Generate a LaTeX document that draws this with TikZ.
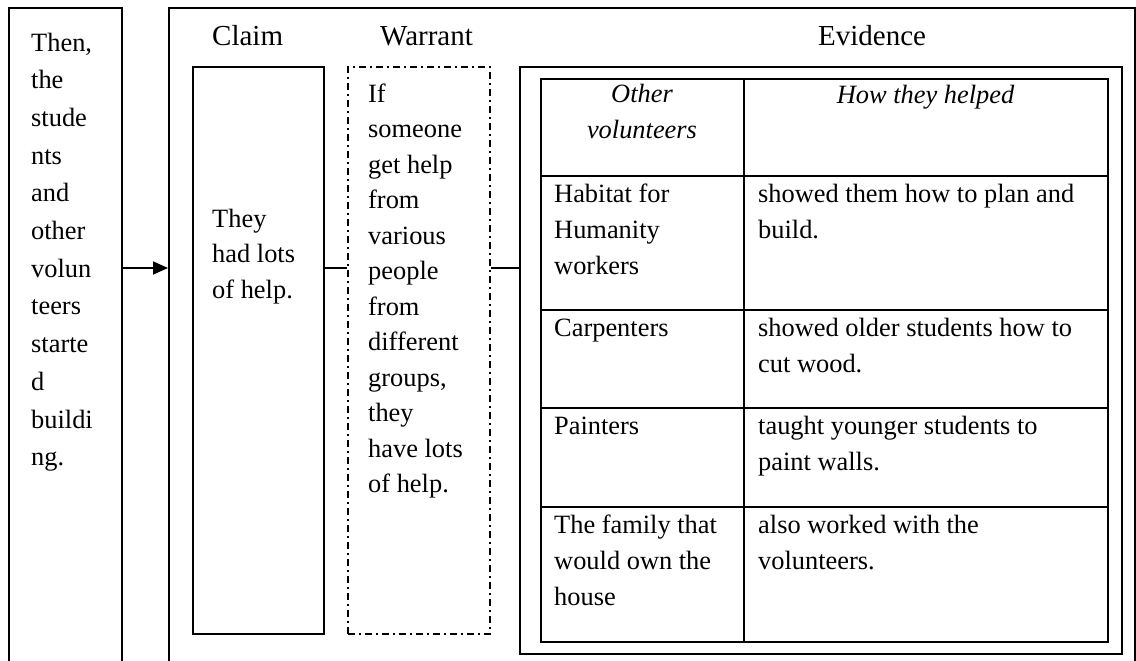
\documentclass[tikz,border=0pt]{standalone}
\usepackage{fontspec}
\setmainfont{Liberation Serif}
\usetikzlibrary{arrows.meta}
\begin{document}
\begin{tikzpicture}[x=1pt,y=-1pt,
  txt/.style={inner sep=0pt, anchor=base west, align=left, font=\fontsize{26.4}{35.5}\selectfont},
  lefttext/.style={txt, font=\fontsize{26.4}{37.7}\selectfont},
  title/.style={txt, font=\fontsize{29}{35}\selectfont},
  ttxt/.style={inner sep=0pt, anchor=base west, align=left, font=\fontsize{26.4}{36}\selectfont},
  hdr/.style={inner sep=0pt, anchor=base, align=center, font=\fontsize{26.4}{36}\selectfont\itshape},
  box/.style={draw, line width=1.8pt, inner sep=0pt, anchor=north west},
  dashbox/.style={box, dash pattern=on 7pt off 4pt on 2pt off 4pt},
  conn/.style={line width=1.8pt},
  rule/.style={line width=1.8pt}]
\useasboundingbox (0,0) rectangle (1136,661);
% boxes
\node[box, minimum width=113pt, minimum height=690pt] (leftbox) at (8,7) {};
\node[box, minimum width=966pt, minimum height=690pt] (outer) at (168,7) {};
\node[box, minimum width=131pt, minimum height=567pt] (claimbox) at (192,66) {};
\node[dashbox, minimum width=142pt, minimum height=567pt] (warrantbox) at (347,66) {};
\node[box, minimum width=602pt, minimum height=587pt] (evbox) at (519,66) {};
\node[box, minimum width=567pt, minimum height=563pt] (table) at (540,78) {};
% table rules
\coordinate (colx) at (744,0);
\draw[rule] (table.north -| colx) -- (table.south -| colx);
\foreach \ry in {176,310,408,507}{
  \draw[rule] (table.west |- 0,\ry) -- (table.east |- 0,\ry);
}
% connectors
\coordinate (mid) at (0,268);
\draw[conn,-{Triangle[length=15pt,width=13pt]}] (leftbox.east |- mid) -- (outer.west |- mid);
\draw[conn] (claimbox.east |- mid) -- (warrantbox.west |- mid);
\draw[conn] (warrantbox.east |- mid) -- (evbox.west |- mid);
% texts (base anchor = baseline of the last line)
\node[lefttext] (lefttxt) at (31,465.7) {Then,\\the\\stude\\nts\\and\\other\\volun\\teers\\starte\\d\\buildi\\ng.};
\node[title] (claimttl) at (212,46) {Claim};
\node[title] (warrttl) at (380,46) {Warrant};
\node[title] (evttl) at (818,46) {Evidence};
\node[txt] (claimtxt) at (212,298) {They\\had lots\\of help.};
\node[txt] (warrtxt) at (368,492.5) {If\\someone\\get help\\from\\various\\people\\from\\different\\groups,\\they\\have lots\\of help.};
\node[hdr] (h1) at (642,139) {Other\\volunteers};
\node[hdr] (h2) at (925.5,103) {How they helped};
\node[ttxt] (c11) at (554,274) {Habitat for\\Humanity\\workers};
\node[ttxt] (c12) at (758,238) {showed them how to plan and\\build.};
\node[ttxt] (c21) at (554,336) {Carpenters};
\node[ttxt] (c22) at (758,372) {showed older students how to\\cut wood.};
\node[ttxt] (c31) at (554,434) {Painters};
\node[ttxt] (c32) at (758,470) {taught younger students to\\paint walls.};
\node[ttxt] (c41) at (554,605) {The family that\\would own the\\house};
\node[ttxt] (c42) at (758,569) {also worked with the\\volunteers.};
\end{tikzpicture}
\end{document}
